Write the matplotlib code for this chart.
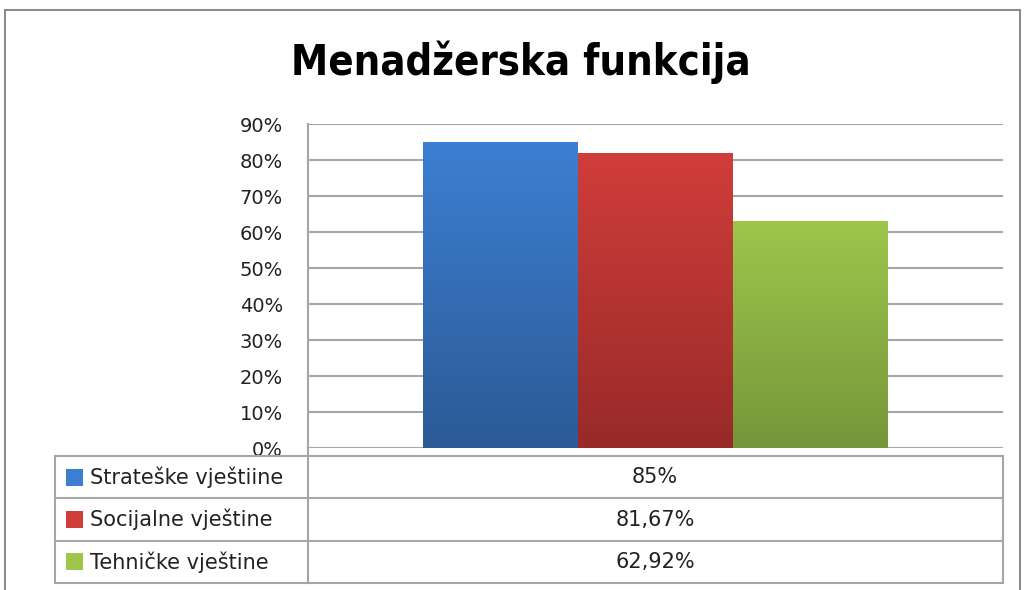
import numpy as np
import matplotlib
matplotlib.use("Agg")
import matplotlib.pyplot as plt
from matplotlib.colors import LinearSegmentedColormap
from matplotlib.patches import Rectangle

title = "Menadžerska funkcija"
series = ["Strateške vještiine", "Socijalne vještine", "Tehničke vještine"]
values = [85, 81.67, 62.92]
yticks = [0, 10, 20, 30, 40, 50, 60, 70, 80, 90]
top_colors = ["#3C7FD2", "#D03D3A", "#9EC64B"]
bottom_colors = ["#2C5A96", "#982A29", "#75963A"]

W, H = 1025, 590
fig = plt.figure(figsize=(W / 100, H / 100), dpi=100)
fig.patch.set_facecolor("white")

def fx(px):
    return px / W

def fy(py):
    return 1 - py / H

# outer chart border (bottom edge falls outside the picture)
fig.patches.append(Rectangle((fx(5), fy(600)), fx(1015), 1.0,
                             transform=fig.transFigure, fill=False,
                             edgecolor="#8C8C8C", linewidth=1.5))

fig.text(fx(521), fy(62), title, ha="center", va="center", fontsize=30,
         fontweight="bold", fontstretch="condensed",
         family=["DejaVu Sans Condensed", "Liberation Sans Narrow", "DejaVu Sans"])

ax = fig.add_axes([fx(308), fy(448), fx(1003 - 308), (448 - 124) / H])
w = 0.223
for i, v in enumerate(values):
    x0 = (i - 1) * w - w / 2
    cmap = LinearSegmentedColormap.from_list("g%d" % i, [bottom_colors[i], top_colors[i]])
    grad = np.linspace(0, 1, 256).reshape(-1, 1)
    ax.imshow(grad, extent=[x0, x0 + w, 0, v], origin="lower", cmap=cmap,
              aspect="auto", zorder=3)
ax.set_xlim(-0.5, 0.5)
ax.set_ylim(0, 90)
ax.set_yticks(yticks)
ax.set_yticklabels(["%d%%" % t for t in yticks], fontsize=14, color="#222222")
ax.tick_params(axis="y", length=0, pad=18)
ax.set_xticks([])
ax.yaxis.grid(True, color="#A6A6A6", linewidth=1.5)
ax.set_axisbelow(True)
for s in ["top", "right", "bottom"]:
    ax.spines[s].set_visible(False)
ax.spines["left"].set_color("#A6A6A6")
ax.spines["left"].set_linewidth(1.5)

# data table below
tab = fig.add_axes([fx(55), fy(583), fx(1003 - 55), (583 - 456) / H])
tab.set_xlim(55, 1003)
tab.set_ylim(583, 456)
tab.axis("off")
row_h = (583 - 456) / 3
lc = "#A6A6A6"
tab.plot([308, 308], [448, 583], color=lc, lw=1.5, clip_on=False)
tab.plot([55, 55], [456, 583], color=lc, lw=1.5, clip_on=False)
tab.plot([1003, 1003], [456, 583], color=lc, lw=1.5, clip_on=False)
for r in range(4):
    yy = 456 + r * row_h
    tab.plot([55, 1003], [yy, yy], color=lc, lw=1.5, clip_on=False)
for r, (name, v) in enumerate(zip(series, values)):
    yc = 456 + (r + 0.5) * row_h
    tab.add_patch(Rectangle((66, yc - 8.5), 17, 17, facecolor=top_colors[r],
                            edgecolor="none"))
    tab.text(90, yc, name, ha="left", va="center", fontsize=15, color="#222222")
    lab = ("%g%%" % v).replace(".", ",")
    tab.text(655, yc, lab, ha="center", va="center", fontsize=15, color="#222222")

fig.savefig("out.png", dpi=100)
